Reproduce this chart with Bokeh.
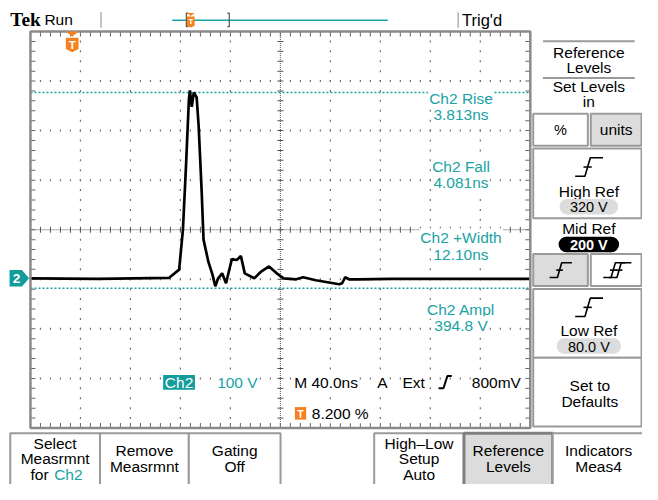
import numpy as np
from bokeh.plotting import figure
from bokeh.models import Range1d
from bokeh.core.properties import value
from bokeh.embed import file_html
from bokeh.resources import INLINE

time_ns = [0, 54, 111, 119, 122, 124.4, 126.8, 127.6, 129.1, 130.7, 133, 134.6, 137, 138.5,
           142.4, 145.6, 147.9, 150.2, 153.4, 156.5, 161.2, 165.1, 168.4, 171.5, 179.1, 184.6,
           190.9, 197.1, 202.6, 212.7, 218.2, 228.4, 247.1, 249.4, 251.8, 254.9, 262.7, 288.5, 400]
volts = [2, 1, 3, 19.5, 99.6, 224.6, 363, 381, 348, 377, 367, 309, 178, 80,
         35, 10, -14, 2, 12, -8, 41, 39, 47, 12, 2, 15.6,
         26, 12, 2, 0, 4, -2, -10, -8, 4, 0, 0, 1, 1]
high_level_v = 377
low_level_v = -18
t_min, t_max, t_div = 0, 400, 40       # ns
v_min, v_max, v_div = -300, 500, 100   # V (ground at 0)

meas_names = ["Ch2 Rise", "Ch2 Fall", "Ch2 +Width", "Ch2 Ampl"]
meas_values = ["3.813ns", "4.081ns", "12.10ns", "394.8 V"]
readout = ["100 V", "M 40.0ns", "A", "Ext", "800mV", "8.200 %"]
bottom_labels = [["Select", "Measrmnt", "for"], ["Remove", "Measrmnt"], ["Gating", "Off"],
                 ["High–Low", "Setup", "Auto"], ["Reference", "Levels"], ["Indicators", "Meas4"]]
ref_values = ["320 V", "200 V", "80.0 V"]

# ---------------- layout constants (reference pixels) ----------------
PW, PH = 658, 500
W, H = 642, 484
SF = 0.97
GX0, GX1 = 30.7, 543.0   # px of t_min, t_max
GY0, GY1 = 32.0, 441.6   # px of v_max, v_min
TEAL = "#1aa3a3"
ORANGE = "#f5821f"
GRAYF = "#dcdcdc"
BORD = "#9a9a9a"
FONT = "Liberation Sans"

tpp = (t_max - t_min) / (GX1 - GX0)
vpp = (v_max - v_min) / (GY1 - GY0)

p = figure(width=W, height=H, x_range=Range1d(0, PW), y_range=Range1d(PH, 0),
           x_axis_location=None, y_axis_location=None, toolbar_location=None,
           output_backend="svg", min_border=0, outline_line_color=None,
           background_fill_color="white", border_fill_color="white")
for g in p.grid:
    g.visible = False
p.extra_x_ranges = {"t": Range1d(t_min - GX0 * tpp, t_max + (PW - GX1) * tpp)}
p.extra_y_ranges = {"v": Range1d(v_min - (PH - GY1) * vpp, v_max + GY0 * vpp)}
D = dict(x_range_name="t", y_range_name="v")


def txt(x, y, s, size=16, color="black", align="center", font=FONT, style="normal", bg=None, **kw):
    extra = {}
    if bg:
        extra = dict(background_fill_color=bg, padding=1)
    p.text(x=[x], y=[y], text=[s], text_font=value(font),
           text_font_size=value(f"{size * SF:.1f}px"), text_color=color,
           text_align=align, text_baseline="middle", text_font_style=style, **extra, **kw)


def box(l, r, t, b, fill="white", lc=BORD, lw=2):
    p.quad(left=[l], right=[r], top=[t], bottom=[b], fill_color=fill, line_color=lc, line_width=lw)


def pill(cx, cy, w, h, fill, s, tc, style="normal"):
    p.rect(x=[cx], y=[cy], width=[w - h], height=[h], fill_color=fill, line_color=None)
    p.ellipse(x=[cx - (w - h) / 2, cx + (w - h) / 2], y=[cy, cy], width=h, height=h,
              fill_color=fill, line_color=None)
    txt(cx, cy + 0.5, s, 15, tc, style=style)


def edge(cx, cy, s=1.0, lw=1.6):
    xs = [cx - 14 * s, cx - 4 * s, cx + 1.5 * s, cx + 14.5 * s]
    ys = [cy + 9.5 * s, cy + 9.5 * s, cy - 9.5 * s, cy - 9.5 * s]
    p.line(xs, ys, line_color="black", line_width=lw)
    p.line([cx - 5.5 * s, cx + 3 * s], [cy, cy], line_color="black", line_width=lw)


# ---------------- top bar ----------------
txt(10, 20, "Tek", 20, font="Liberation Serif", style="bold", align="left")
txt(45, 20, "Run", 16, align="left")
p.segment(x0=[103, 469], y0=[12, 12], x1=[103, 469], y1=[28, 28], line_color="#888", line_width=1)
p.line([176, 397], [20.5, 20.5], line_color=TEAL, line_width=1.5)
p.line([192.5, 190.5, 190.5, 192.5], [13, 13, 27, 27], line_color="#555", line_width=1.2)
p.line([232.5, 234.5, 234.5, 232.5], [13, 13, 27, 27], line_color="#555", line_width=1.2)
p.patch([191, 199, 195], [13, 13, 16], fill_color=ORANGE, line_color=None)
p.patch([191, 199, 199, 195, 191], [16.5, 16.5, 26, 28, 26], fill_color=ORANGE, line_color=None)
txt(195, 22, "T", 8, "white", style="bold")
txt(473, 20, "Trig'd", 17, align="left")

# ---------------- graticule ----------------
p.quad(left=[t_min], right=[t_max], top=[v_max], bottom=[v_min], fill_color="white",
       line_color=None, **D)
# dotted grid
gx, gy = [], []
for t in range(t_min + t_div, t_max, t_div):
    if t == (t_min + t_max) // 2:
        continue
    for v in np.arange(v_min + 20, v_max, 20):
        gx.append(t); gy.append(v)
for v in range(v_min + v_div, v_max, v_div):
    if v == (v_min + v_max) // 2:
        continue
    for t in np.arange(t_min + 8, t_max, 8):
        gx.append(t); gy.append(v)
p.rect(x=gx, y=gy, width=1.2, height=2, width_units="screen", height_units="screen",
       fill_color="#707070", line_color=None, **D)
# center cross
tc = (t_min + t_max) / 2
vc = (v_min + v_max) / 2
p.line([t_min, t_max], [vc, vc], line_color="#555", line_width=1, line_dash="1 1", **D)
p.line([tc, tc], [v_min, v_max], line_color="#555", line_width=1, line_dash="1 1", **D)
tt = np.arange(t_min + 8, t_max, 8)
vv = np.arange(v_min + 20, v_max, 20)
p.rect(x=tt, y=[vc] * len(tt), width=1, height=6, width_units="screen", height_units="screen",
       fill_color="#555", line_color=None, **D)
p.rect(x=[tc] * len(vv), y=vv, width=6, height=1, width_units="screen", height_units="screen",
       fill_color="#555", line_color=None, **D)
# frame edge ticks
p.rect(x=tt, y=[v_max - 2.5 * vpp] * len(tt), width=1, height=5, width_units="screen",
       height_units="screen", fill_color="#666", line_color=None, **D)
p.rect(x=tt, y=[v_min + 2.5 * vpp] * len(tt), width=1, height=5, width_units="screen",
       height_units="screen", fill_color="#666", line_color=None, **D)
p.rect(x=[t_min + 2.5 * tpp] * len(vv), y=vv, width=5, height=1, width_units="screen",
       height_units="screen", fill_color="#666", line_color=None, **D)
p.rect(x=[t_max - 2.5 * tpp] * len(vv), y=vv, width=5, height=1, width_units="screen",
       height_units="screen", fill_color="#666", line_color=None, **D)
# reference level lines
for lv in (high_level_v, low_level_v):
    p.line([t_min, t_max], [lv, lv], line_color=TEAL, line_width=1.5, line_dash="2 2", **D)
# trace
p.line(time_ns, volts, line_color="black", line_width=2.7, **D)
# frame border
p.quad(left=[t_min], right=[t_max], top=[v_max], bottom=[v_min], fill_color=None,
       line_color="#8a8a8a", line_width=2.5, **D)

# trigger marker
p.patch([67, 80, 73.5], [32, 32, 37.5], fill_color=ORANGE, line_color=None)
p.patch([67, 80, 80, 73.5, 67], [38.5, 38.5, 50, 53.5, 50], fill_color=ORANGE, line_color=None)
txt(73.5, 45.5, "T", 12, "white", style="bold")
# channel marker
p.patch([9.3, 22, 29.3, 22, 9.3], [278.5, 278.5, 287, 295.5, 295.5], fill_color="#139c9c",
        line_color=None)
txt(16.5, 287.5, "2", 14, "white", style="bold")

# measurement readouts
meas_y = [101, 171, 245, 319]
for name, val, y in zip(meas_names, meas_values, meas_y):
    txt(472, y, name, 16, TEAL, bg="white")
    txt(472, y + 17, val, 16, TEAL, bg="white")

# bottom readout row
box(166.7, 199.3, 387, 402, fill="#139c9c", lc=None)
txt(183, 395, "Ch2", 16, "white")
txt(221, 394.5, readout[0], 16, TEAL, align="left", bg="white")
txt(300, 394.5, readout[1], 16, align="left", bg="white")
txt(385, 394.5, readout[2], 16, align="left", bg="white")
txt(411, 394.5, readout[3], 16, align="left", bg="white")
p.line([449, 454, 458, 462.5], [400.5, 400.5, 388, 388], line_color="black", line_width=2)
txt(482, 394.5, readout[4], 16, align="left", bg="white")
box(301.7, 313.3, 420, 433, fill=ORANGE, lc=None)
txt(307.5, 427, "T", 11, "white", style="bold")
txt(318, 427, readout[5], 16, align="left", bg="white")

# ---------------- right side menu ----------------
p.segment(x0=[556, 556], y0=[42, 80], x1=[650, 650], y1=[42, 80], line_color=BORD, line_width=2)
txt(603, 54, "Reference", 16); txt(603, 69, "Levels", 16)
txt(603, 89, "Set Levels", 16); txt(603, 104, "in", 16)
box(546, 602, 117, 150); txt(574, 133.5, "%", 15)
box(605, 657, 117, 150, fill=GRAYF); txt(631, 133.5, "units", 16)
box(546, 657, 153, 225)
edge(603, 172)
txt(603, 197, "High Ref", 16)
pill(603, 213, 60, 16, GRAYF, ref_values[0], "black")
txt(603, 236, "Mid Ref", 16)
pill(603, 252, 62, 16, "black", ref_values[1], "white", style="bold")
box(546, 602, 262, 295, fill=GRAYF)
edge(574, 278.5, 0.8)
box(605, 657, 262, 295)
edge(629, 278.5, 0.8)
edge(635, 278.5, 0.8)
box(546, 657, 298, 369)
edge(603, 317)
txt(603, 341, "Low Ref", 16)
pill(603, 357, 66, 16, GRAYF, ref_values[2], "black")
box(546, 657, 369, 440)
txt(604, 398, "Set to", 16); txt(604, 414, "Defaults", 16)

# ---------------- bottom menu ----------------
btns = [(10, 102), (102, 193), (193, 287), (383, 475), (475, 566), (566, 660)]
for i, ((l, r), lines) in enumerate(zip(btns, bottom_labels)):
    if i == 4:
        box(l, r, 447, 503, fill=GRAYF, lc="#808080", lw=3)
    else:
        box(l, r, 447, 503)
    cx = (l + r) / 2
    ys = [458, 473, 490] if len(lines) == 3 else [465, 481]
    for s, y in zip(lines, ys):
        if s == "for":
            txt(30.7, y, "for", 16, align="left")
            txt(55, y, "Ch2", 16, TEAL, align="left")
        else:
            txt(cx, y, s, 16)

open("out.html", "w").write(file_html(p, INLINE))
